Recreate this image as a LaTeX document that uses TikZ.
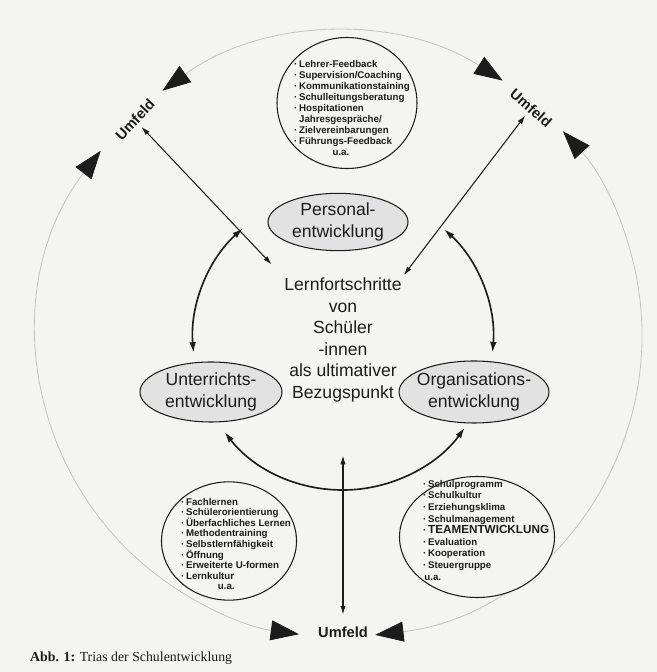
\documentclass[tikz,border=0pt]{standalone}
\usepackage{fontspec}
\setmainfont{Liberation Sans}
\newfontfamily\buchschrift{Liberation Serif}
\usetikzlibrary{arrows.meta,shapes.geometric}
\definecolor{papier}{RGB}{244,244,243}
\definecolor{tinte}{RGB}{28,28,28}
\definecolor{feldgrau}{RGB}{226,226,226}
\definecolor{ringgrau}{RGB}{196,196,196}
\newcommand{\pkt}{·\,}

\begin{document}
\begin{tikzpicture}[x=0.03cm,y=0.03cm,color=tinte,
    feld/.style={ellipse,draw,line width=0.9pt,fill=feldgrau,align=center,
      inner xsep=-0.2cm,inner ysep=0pt,font=\fontsize{15}{18}\selectfont},
    kreis/.style={ellipse,draw,line width=0.9pt,fill=papier},
    liste/.style={anchor=north west,align=left,inner sep=0pt,
      font=\bfseries\fontsize{8.3}{9.45}\selectfont},
    umfeld/.style={font=\bfseries\fontsize{12.5}{15}\selectfont},
    umring/.style={ringgrau,line width=0.7pt,
      {Triangle[length=8.5mm,width=6mm,color=tinte]}-{Triangle[length=8.5mm,width=6mm,color=tinte]}},
    bogen/.style={line width=1.4pt,{Latex[length=3.2mm,width=2mm]}-{Latex[length=3.2mm,width=2mm]}},
    pfeil/.style={line width=0.9pt,{Latex[length=2.6mm,width=1.6mm]}-{Latex[length=2.6mm,width=1.6mm]}}]
    \fill[papier] (0,0) rectangle (657,672);
    \useasboundingbox (0,0) rectangle (657,672);
    \coordinate (mitte) at (340,337);

    % aeusserer Ring mit den drei Umfeld-Markierungen
    \foreach \a/\b in {57.4/126,142.4/262.2,276.7/402.4}
    {
      \draw[umring] ([shift={(\a:9.06cm)}]mitte) arc[start angle=\a,end angle=\b,radius=9.06cm];
    }
    \node[umfeld,rotate=47] (umNW) at (135,552) {Umfeld};
    \node[umfeld,rotate=-41] (umNE) at (531,564) {Umfeld};
    \node[umfeld] (umS) at (343,40) {Umfeld};

    % Kreise mit den Stichworten
    \node[kreis,minimum width=4.2cm,minimum height=3.93cm] (kreisP) at (347,569) {};
    \node[kreis,minimum width=4.05cm,minimum height=3.55cm] (kreisU) at (229,131) {};
    \node[kreis,minimum width=4.65cm,minimum height=3.63cm] (kreisO) at (477,135) {};
    \node[liste] (listeP) at (294,612) {\pkt Lehrer-Feedback\\\pkt Supervision/Coaching\\\pkt Kommunikationstaining\\\pkt Schulleitungsberatung\\\pkt Hospitationen\\\phantom{\pkt}Jahresgespräche/\\\pkt Zielvereinbarungen\\\pkt Führungs-Feedback\\\hspace*{1.15cm}u.a.};
    \node[liste,font=\bfseries\fontsize{8.3}{9}\selectfont] (listeU) at (181,174) {\pkt Fachlernen\\\pkt Schülerorientierung\\\pkt Überfachliches Lernen\\\pkt Methodentraining\\\pkt Selbstlernfähigkeit\\\pkt Öffnung\\\pkt Erweiterte U-formen\\\pkt Lernkultur\\\hspace*{1.1cm}u.a.};
    \node[liste,font=\bfseries\fontsize{8.3}{9.9}\selectfont] (listeO) at (423,192) {\pkt Schulprogramm\\\pkt Schulkultur\\\pkt Erziehungsklima\\\pkt Schulmanagement\\\pkt {\fontsize{10}{9.9}\selectfont TEAMENTWICKLUNG}\\\pkt Evaluation\\\pkt Kooperation\\\pkt Steuergruppe\\\hspace*{1pt}u.a.};

    % die Trias
    \node[feld,minimum width=4.2cm,minimum height=1.72cm] (pers) at (338,450) {Personal-\\entwicklung};
    \node[feld,minimum width=4.26cm,minimum height=1.8cm] (unt) at (211,280) {Unterrichts-\\entwicklung};
    \node[feld,minimum width=4.5cm,minimum height=1.86cm] (org) at (474,280) {Organisations-\\entwicklung};
    \node[align=center,inner sep=0pt,font=\fontsize{15}{18.4}\selectfont] (zentrum) at (343,332) {Lernfortschritte\\von\\Schüler\\-innen\\als ultimativer\\Bezugspunkt};

    \foreach \a/\b in {131.9/184.9,47.5/-4.8,217.9/324.2}
    {
      \draw[bogen] ([shift={(\a:4.5cm)}]zentrum.center) arc[start angle=\a,end angle=\b,radius=4.5cm];
    }
    \draw[pfeil,shorten >=0.55cm] (umNW) -- (zentrum.north west);
    \draw[pfeil,shorten >=0.1cm] (umNE) -- (zentrum.north east);
    \draw[pfeil,shorten <=0.24cm,shorten >=1.6cm] (umS) -- (zentrum.south);

    \node[anchor=base west,inner sep=0pt,font=\buchschrift\fontsize{11.8}{14}\selectfont] (unterschrift) at (30,10) {\textbf{Abb. 1:} Trias der Schulentwicklung};
\end{tikzpicture}
\end{document}
